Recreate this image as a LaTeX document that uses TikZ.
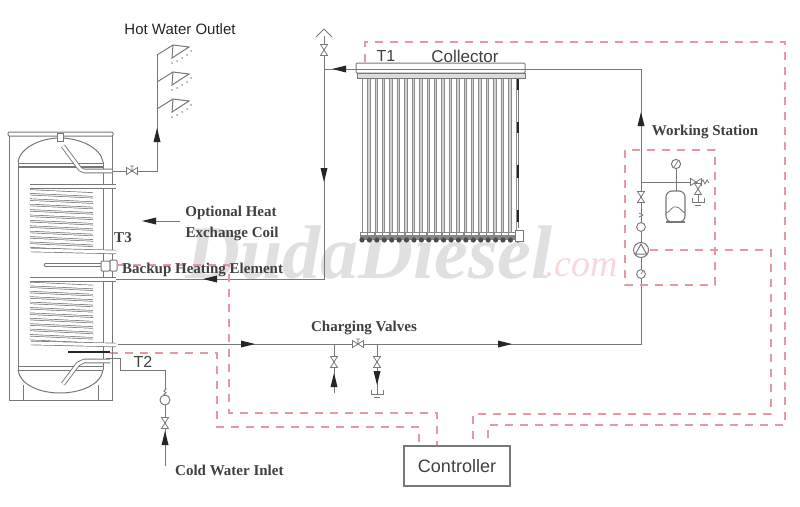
\documentclass[tikz,border=0pt]{standalone}
\usepackage{fontspec}
\setmainfont{Liberation Serif}
\setsansfont{Liberation Sans}
\definecolor{pipe}{RGB}{120,120,120}
\definecolor{wire}{RGB}{232,150,160}
\definecolor{wmgray}{RGB}{224,224,224}
\definecolor{pinkmark}{RGB}{249,216,218}
\tikzset{
 x=1pt,y=-1pt,
 pipeline/.style={draw=pipe,line width=1pt},
 tube/.style={draw=pipe,line width=.7pt,double=white,double distance=3pt},
 fat tube/.style={draw=pipe,line width=.9pt,double=white,double distance=2.8pt},
 wireline/.style={draw=wire,line width=1.1pt,dash pattern=on 8pt off 7pt},
 txtlabel/.style={font=\bfseries\fontsize{15}{16}\selectfont,text=black!75,inner sep=0pt},
 sanslabel/.style={font=\sffamily\fontsize{15}{17}\selectfont,text=black!75,inner sep=0pt},
 pics/flow/.style={code={\fill[black!85] (7,0)--(-7,-3.5)--(-7,3.5)--cycle;}},
 pics/valve/.style={code={\draw[pipe,line width=.8pt,fill=white] (-5.5,-3.5)--(5.5,3.5)--(5.5,-3.5)--(-5.5,3.5)--cycle;}},
 pics/valvetop/.style={code={\draw[pipe,line width=.8pt,fill=white] (-5.5,-3.5)--(5.5,3.5)--(5.5,-3.5)--(-5.5,3.5)--cycle (0,0)--(0,-5) (-2,-5)--(2,-5);}},
 pics/drain/.style={code={\draw[pipe,line width=.9pt] (-6,0)--(-6,4)--(6,4)--(6,0) (0,-4)--(0,4) (-3,7)--(3,7);}},
 pics/shower/.style={code={
   \draw[pipe,line width=1pt] (0,0)--(16,-10)--(32,-8)--(15,3)--(16,-10);
   \foreach \a/\b in {20/6,25/3,30/0,34/-4,15/8}{\fill[pipe!70] (\a,\b) circle (1);}
 }},
}
\begin{document}
\begin{tikzpicture}
\useasboundingbox (0,0) rectangle (800,506);
\fill[white] (0,0) rectangle (800,506);
% watermark
\node[anchor=base west,inner sep=0pt,text=wmgray,font=\bfseries\itshape\fontsize{76}{76}\selectfont] (wm) at (185,278) {DudaDiesel};
\node[anchor=base west,inner sep=0pt,text=pinkmark,font=\itshape\fontsize{38}{38}\selectfont] (wmc) at (545,276) {.com};

% named points
\coordinate (hdrL) at (356,69);
\coordinate (hdrR) at (525,69);
\coordinate (retTop) at (324,69);
\coordinate (retCap) at (324,36);
\coordinate (retBot) at (324,279);
\coordinate (coilA) at (116,279);
\coordinate (coilB) at (118,344);
\coordinate (stTop) at (641,69);
\coordinate (stBot) at (641,344);
\coordinate (hotA) at (108,171);
\coordinate (hotB) at (157,171);
\coordinate (hotC) at (157,55);
\coordinate (coldA) at (106,358);
\coordinate (coldB) at (120,358);
\coordinate (coldC) at (120,370);
\coordinate (coldD) at (165,370);
\coordinate (coldE) at (165,466);
\coordinate (branchA) at (334,344);
\coordinate (branchB) at (377,344);
\coordinate (branchAe) at (334,393);
\coordinate (branchBe) at (377,386);

% pipes
\draw[pipeline] (hdrR)--(stTop)--(stBot)--(coilB);
\draw[pipeline] (hdrL)--(retTop);
\draw[pipeline] (retCap)--(retBot)--(coilA);
\draw[pipeline] (hotA)--(hotB)--(hotC);
\draw[pipeline] (coldA)--(coldB)--(coldC)--(coldD)--(165,388);
\draw[pipeline] (165,405)--(coldE);
\draw[pipeline] (branchA)--(branchAe);
\draw[pipeline] (branchB)--(branchBe);
\draw[pipe,line width=.9pt] (316,37)--(324,29)--(332,37);

% dashed wires
\draw[wireline] (365,62)--(365,42)--(785,42)--(785,425)--(488,425)--(488,446);
\draw[wireline] (650,250)--(771,250)--(771,414)--(473,414)--(473,446);
\draw[wireline] (110,353)--(217,353)--(217,427)--(419,427)--(419,446);
\draw[wireline] (118,265)--(229,265)--(229,413)--(437,413)--(437,446);
\draw[wireline] (625,150) rectangle (715,285);

% tank
\draw[pipe,line width=1pt] (9,136)--(9,400)--(112,400)--(112,136);
\draw[pipe,line width=1pt,rounded corners=1pt] (8,132) rectangle (113,136);
\draw[pipe,line width=1pt] (18,162)--(18,370) (103,162)--(103,370);
\draw[pipe,line width=1pt] (18,162) .. controls (20,148) and (40,138) .. (60,138) .. controls (80,138) and (101,148) .. (103,162);
\draw[pipe,line width=1pt] (18,370) .. controls (20,385) and (40,393) .. (60,393) .. controls (80,393) and (101,385) .. (103,370);
\draw[pipe,line width=1pt,fill=white] (57,133) rectangle (63,141);
\draw[pipe,line width=1pt] (18,163)--(103,163);
\draw[pipe,line width=1.8pt] (18,167)--(103,167);
\draw[pipe,line width=1pt] (18,366)--(103,366) (18,370)--(103,370);
\draw[pipe,line width=1pt] (23,385)--(23,400) (98,385)--(98,400);
\draw[fat tube,line join=round] (63,146)--(80,169)--(84,171)--(112,171);
\draw[fat tube,line join=round] (63,384)--(78,364)--(84,361)--(110,361);

% coils
\foreach \t in {0,...,10}{\draw[tube] (30,{191.5+\t*5.4})--(93,{194.5+\t*5.4});}
\draw[tube] (30,186.5)--(116,186.5);
\draw[tube] (31,250)--(116,252);
\foreach \t in {0,...,10}{\draw[tube] (30,{284+\t*5.4})--(93,{287+\t*5.4});}
\draw[tube] (30,279.5)--(116,279.5);
\draw[tube] (31,343)--(116,345);

% backup element
\draw[fat tube,line cap=round] (46,265)--(101,265);
\draw[pipe,line width=1pt,fill=white,rounded corners=1pt] (101,261) rectangle (110,271);
\draw[pipe,line width=1pt,fill=white,rounded corners=1pt] (110,260) rectangle (117,271);

% T2 sensor
\draw[black!85,line width=1.8pt] (68,352)--(110,352);

% outlet valve, showers
\pic at (132,171) {valvetop};
\pic at (157,55) {shower};
\pic at (157,82) {shower};
\pic at (157,109) {shower};
\pic[rotate=90] at (157,135) {flow};

% cold inlet
\draw[pipe,line width=.8pt] (165,388) .. controls (169,389) and (161,391) .. (165,392) .. controls (169,393) and (161,394) .. (165,395);
\draw[pipe,line width=1pt,fill=white] (165,400) circle (5);
\pic[rotate=90] at (165,423) {valve};
\pic[rotate=90] at (165,438) {flow};

% flow arrows
\pic[rotate=180] at (339,69) {flow};
\pic[rotate=-90] at (324,175) {flow};
\pic[rotate=180] at (210,279) {flow};
\pic at (248,344) {flow};
\pic at (505,344) {flow};
\pic[rotate=90] at (641,119) {flow};
\pic[rotate=90] at (324,50) {valve};

% optional coil pointer
\coordinate (optA) at (180,221);
\coordinate (optB) at (150,221);
\draw[pipeline] (optA)--(optB);
\pic[rotate=180] at (149,221) {flow};

% charging valves
\pic at (358,344) {valvetop};
\pic[rotate=90] at (334,362) {valve};
\pic[rotate=90] at (377,362) {valve};
\pic[rotate=90] at (334,380) {flow};
\pic[rotate=-90] at (377,378) {flow};
\pic at (377,390) {drain};

% collector tubes
\fill[pipe!35] (362,78) rectangle (517,234);
\foreach \i in {0,...,20}{
  \draw[pipe!85,line width=.7pt,fill=white] ({362.5+\i*7.42},78) rectangle ({367.5+\i*7.42},234);
}
\draw[pipe,line width=1pt,fill=white,rounded corners=1pt] (356,63) rectangle (525,73);
\draw[pipe,line width=1pt,fill=pipe!25] (357,73) rectangle (525,78);
\draw[pipe,line width=1pt] (356,69)--(525,69);
\fill[pipe!90] (360,232) rectangle (520,240);
\foreach \i in {0,...,21}{\fill[black!70] ({362+\i*7.42},240) circle (2.6);\fill[white] ({361+\i*7.42},233) rectangle ({367+\i*7.42},235);}
\draw[pipe,line width=1pt,fill=white] (515,230) rectangle (523,241);
\draw[pipe,line width=.7pt] (518,90)--(518,228);
\draw[black!85,line width=2.6pt] (518,79)--(518,90) (518,122)--(518,133) (518,165)--(518,178) (518,210)--(518,222);

% working station
\coordinate (wsBranch) at (641,182);
\coordinate (wsEnd) at (693,182);
\coordinate (wsGauge) at (676,164);
\coordinate (wsVessel) at (676,191);
\draw[pipeline] (wsBranch)--(wsEnd);
\draw[pipeline] (wsGauge)--(wsVessel);
\draw[pipe,line width=1pt,fill=white] (wsGauge) circle (4.6);
\draw[pipe,line width=.7pt] (674,167)--(678,161);
\draw[pipe,line width=1.1pt,fill=white,rounded corners=6pt] (666,222)--(666,191)--(685,191)--(685,222)--cycle;
\draw[pipe,line width=1.1pt] (666,222)--(685,222);
\draw[pipe,line width=.8pt] (666,213) .. controls (671,212) and (672,205) .. (676,207) .. controls (680,207) and (681,211) .. (685,213);
\pic at (696,182) {valve};
\draw[pipe,line width=.8pt] (701,182)--(703,180)--(705,184)--(707,180)--(709,183);
\pic[rotate=90] at (698,189) {valve};
\pic at (698,198) {drain};
\pic[rotate=90] at (641,197) {valve};
\draw[pipe,line width=.9pt,fill=white] (641,227) circle (4.4);
\draw[pipe,line width=1pt,fill=white] (641,250) circle (7.5);
\draw[pipe,line width=1pt] (635.5,254)--(641,244)--(646.5,254)--cycle;
\draw[pipe,line width=.9pt,fill=white] (641,274) circle (4.4);
\draw[pipe,line width=.7pt] (641,274)--(643,271);
\draw[pipe,line width=.8pt,fill=white] (639,217)--(643,215)--(639,213);

% controller
\node[draw=pipe,line width=1.1pt,fill=white,minimum width=106pt,minimum height=40pt,inner sep=0pt,anchor=center,sanslabel,font=\sffamily\fontsize{18}{20}\selectfont] (ctrl) at (457,466) {Controller};

% labels
\node[sanslabel,font=\sffamily\fontsize{16}{17}\selectfont] (lt1) at (386,56) {T1};
\node[sanslabel,font=\sffamily\fontsize{17}{18}\selectfont] (lcol) at (465,56) {Collector};
\node[sanslabel,font=\sffamily\fontsize{16}{17}\selectfont] (lt2) at (143,362) {T2};
\node[sanslabel,text=black!85] (lhot) at (180,29) {Hot Water Outlet};
\node[txtlabel] (lopt1) at (231,213) {Optional Heat};
\node[txtlabel] (lopt2) at (232,234) {Exchange Coil};
\node[txtlabel] (lt3) at (123,238) {T3};
\node[txtlabel,anchor=west] (lbak) at (122,270) {Backup Heating Element};
\node[txtlabel] (lchg) at (364,328) {Charging Valves};
\node[txtlabel] (lws) at (705,132) {Working Station};
\node[txtlabel,anchor=west] (lcold) at (175,470) {Cold Water Inlet};
\end{tikzpicture}
\end{document}
